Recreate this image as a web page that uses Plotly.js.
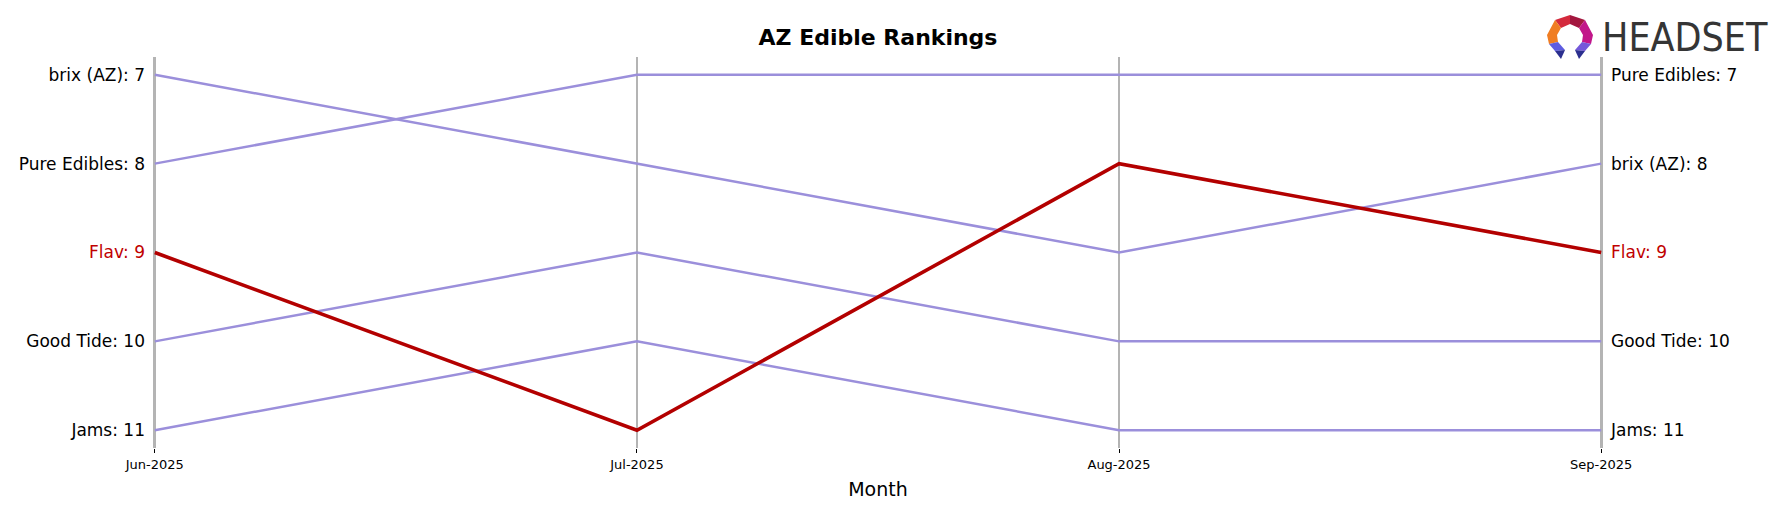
<!DOCTYPE html>
<html>
<head>
<meta charset="utf-8">
<script src="https://cdn.plot.ly/plotly-3.0.1.min.js"></script>
<style>html,body{margin:0;padding:0;background:#fff;}#chart{width:1784px;height:507px;}</style>
</head>
<body>
<div id="chart"></div>
<script>
// ---- data ----
const months = ['Jun-2025', 'Jul-2025', 'Aug-2025', 'Sep-2025'];
const brands = ['brix (AZ)', 'Pure Edibles', 'Good Tide', 'Jams', 'Flav'];
const brixRanks = [7, 8, 9, 8];
const pureEdiblesRanks = [8, 7, 7, 7];
const goodTideRanks = [10, 9, 10, 10];
const jamsRanks = [11, 10, 11, 11];
const flavRanks = [9, 11, 8, 9];
const highlightBrand = 'Flav';
const chartTitle = 'AZ Edible Rankings';
const xTitle = 'Month';

const rankSeries = {
  'brix (AZ)': brixRanks,
  'Pure Edibles': pureEdiblesRanks,
  'Good Tide': goodTideRanks,
  'Jams': jamsRanks,
  'Flav': flavRanks
};

const purple = '#9b8fdb';
const red = '#b30000';
const redText = '#c00000';

const traces = brands.map(b => ({
  type: 'scatter',
  mode: 'lines',
  x: months,
  y: rankSeries[b],
  name: b,
  yaxis: b === highlightBrand ? 'y2' : 'y',
  line: {color: b === highlightBrand ? red : purple, width: b === highlightBrand ? 3.6 : 2.5},
  hoverinfo: 'skip',
  showlegend: false
}));

function labelsAt(idx) {
  const vals = [], texts = [];
  brands.map(b => ({b, r: rankSeries[b][idx]})).sort((a, c) => a.r - c.r).forEach(o => {
    vals.push(o.r);
    const t = o.b + ': ' + o.r;
    texts.push(o.b === highlightBrand ? '<span style="color:' + redText + '">' + t + '</span>' : t);
  });
  return {vals, texts};
}
const left = labelsAt(0);
const right = labelsAt(months.length - 1);

const yRange = [11.2, 6.8];
const fontFam = 'DejaVu Sans, sans-serif';

const logoSvg = '<svg xmlns="http://www.w3.org/2000/svg" viewBox="0 0 46 44" width="46" height="44">' +
  '<polygon points="23,0 8,5 14,13 23,9" fill="#d42a3c"/>' +
  '<polygon points="23,0 38,5 32,13 23,9" fill="#a3173f"/>' +
  '<polygon points="8,5 0,20 2,29 11,27 10,20 14,13" fill="#f07d22"/>' +
  '<polygon points="38,5 46,20 44,29 35,27 36,20 32,13" fill="#c2168a"/>' +
  '<polygon points="2,29 11,27 18,35 8,36" fill="#5e5ce0"/>' +
  '<polygon points="8,36 18,35 14,44" fill="#2b2f8f"/>' +
  '<polygon points="44,29 35,27 28,35 38,36" fill="#7458da"/>' +
  '<polygon points="38,36 28,35 32,44" fill="#2b2f8f"/>' +
  '</svg>';
const logoUri = 'data:image/svg+xml;base64,' + btoa(logoSvg);

const L = 150, R = 178, T = 57, B = 59, W = 1784, H = 507;
const pw = W - L - R, ph = H - T - B;
const px = v => (v - L) / pw;
const py = v => (H - B - v) / ph;

const layout = {
  width: W, height: H,
  margin: {l: L, r: R, t: T, b: B},
  paper_bgcolor: '#ffffff',
  plot_bgcolor: '#ffffff',
  font: {family: fontFam, color: '#000000'},
  title: {
    text: '<b>' + chartTitle + '</b>',
    font: {family: fontFam, size: 22, color: '#000000'},
    x: 0.5, xref: 'paper', xanchor: 'center',
    y: 1 - 37 / H, yref: 'container', yanchor: 'middle'
  },
  xaxis: {
    type: 'category',
    range: [-0.01, 3.01],
    showgrid: true, gridcolor: '#b4b4b4', gridwidth: 2.7,
    zeroline: false, showline: false,
    ticks: 'outside', ticklen: 4, tickwidth: 1, tickcolor: '#000000',
    tickfont: {family: fontFam, size: 13, color: '#000000'},
    title: {text: xTitle, font: {family: fontFam, size: 19, color: '#000000'}, standoff: 12},
    fixedrange: true
  },
  yaxis: {
    range: yRange,
    showgrid: false, zeroline: false, showline: false,
    tickmode: 'array', tickvals: left.vals, ticktext: left.texts,
    ticks: '', tickfont: {family: fontFam, size: 17, color: '#000000'},
    ticklabelstandoff: 4,
    fixedrange: true
  },
  yaxis2: {
    range: yRange, overlaying: 'y', side: 'right',
    showgrid: false, zeroline: false, showline: false,
    tickmode: 'array', tickvals: right.vals, ticktext: right.texts,
    ticks: '', tickfont: {family: fontFam, size: 17, color: '#000000'},
    ticklabelstandoff: 4,
    fixedrange: true
  },
  images: [{
    source: logoUri, xref: 'paper', yref: 'paper',
    x: px(1547), y: py(15), sizex: 46 / pw, sizey: 44 / ph,
    xanchor: 'left', yanchor: 'top', sizing: 'stretch', layer: 'above'
  }],
  annotations: [{
    text: 'HEADSET', xref: 'paper', yref: 'paper',
    x: px(1600), y: py(38), xanchor: 'left', yanchor: 'middle',
    showarrow: false,
    font: {family: 'DejaVu Sans Condensed, sans-serif', size: 39, color: '#353535'}
  }],
  showlegend: false
};

Plotly.newPlot('chart', traces, layout, {displayModeBar: false, staticPlot: true});
</script>
</body>
</html>
